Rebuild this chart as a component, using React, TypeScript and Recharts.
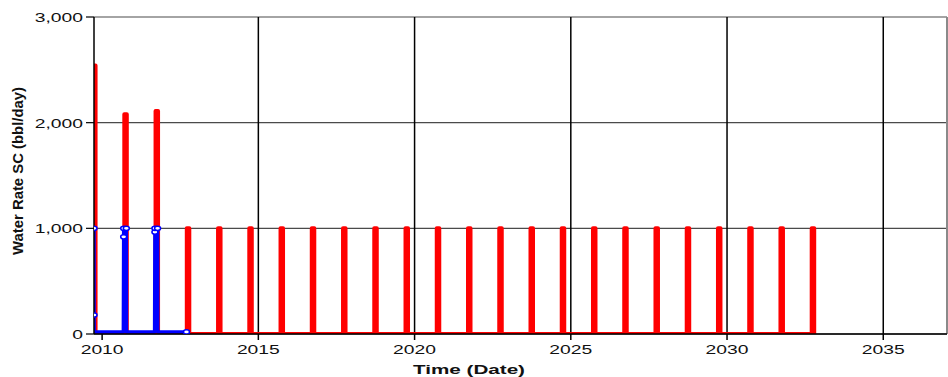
import React from 'react';
import { LineChart, Line, XAxis, YAxis, CartesianGrid, ReferenceLine, Label } from 'recharts';

// Time axis (decimal years)
const timeDomain: [number, number] = [2009.74, 2037.04];
const yearTicks = [2010, 2015, 2020, 2025, 2030, 2035];
const yearGridLines = [2015, 2020, 2025, 2030, 2035];

// Water rate axis (bbl/day)
const rateTicks = [0, 1000, 2000, 3000];

// Producer water rate: one short pulse per year
const redPulseStarts = [
  2009.71, 2010.71, 2011.71, 2012.71, 2013.71, 2014.71, 2015.71, 2016.71,
  2017.71, 2018.71, 2019.71, 2020.71, 2021.71, 2022.71, 2023.71, 2024.71,
  2025.71, 2026.71, 2027.71, 2028.71, 2029.71, 2030.71, 2031.71, 2032.71,
];
const redPulseRates = [
  2540, 2080, 2110, 1000, 1000, 1000, 1000, 1000,
  1000, 1000, 1000, 1000, 1000, 1000, 1000, 1000,
  1000, 1000, 1000, 1000, 1000, 1000, 1000, 1000,
];
const redPulseLength = 0.08;

// Historical water rate (with observed points marked)
const blueTimes = [
  2009.74, 2009.74, 2009.745, 2010.68, 2010.69, 2010.69, 2010.775, 2010.78,
  2011.68, 2011.69, 2011.69, 2011.775, 2011.78, 2012.7,
];
const blueRates = [1000, 180, 20, 20, 920, 1000, 1000, 20, 20, 965, 1000, 1000, 20, 20];
const blueMarked = [true, true, false, false, true, true, true, false, false, true, true, true, false, true];

const redSeries = redPulseStarts.flatMap((t, i) => [
  { t, v: 0 },
  { t, v: redPulseRates[i] },
  { t: t + redPulseLength, v: redPulseRates[i] },
  { t: t + redPulseLength, v: 0 },
]);

const blueSeries = blueTimes.map((t, i) => ({ t, v: blueRates[i], mark: blueMarked[i] }));

const FONT = '"Liberation Sans", Arial, sans-serif';
const STRETCH = 1.43;

const XTick = (props: any) => {
  const { x, y, payload } = props;
  return (
    <g transform={`translate(${x},${y + 12})`}>
      <text x={0} y={0} textAnchor="middle" transform={`scale(${STRETCH},1)`}
        fontFamily={FONT} fontSize={13.5} fill="#111">
        {payload.value}
      </text>
    </g>
  );
};

const YTick = (props: any) => {
  const { x, y, payload } = props;
  return (
    <g transform={`translate(${x - 1},${y + 5})`}>
      <text x={0} y={0} textAnchor="end" transform={`scale(${STRETCH},1)`}
        fontFamily={FONT} fontSize={13.5} fill="#111">
        {payload.value.toLocaleString('en-US')}
      </text>
    </g>
  );
};

const BlueDot = (props: any) => {
  const { cx, cy, payload, index } = props;
  if (!payload.mark) return <g key={`d-${index}`} />;
  return (
    <ellipse key={`d-${index}`} cx={cx} cy={cy} rx={3} ry={2.1}
      fill="#fff" stroke="#0000ff" strokeWidth={1.5} />
  );
};

export default function App() {
  return (
    <div style={{ position: 'absolute', left: 0, top: 0, width: 948, height: 377, background: '#fff' }}>
      <LineChart width={948} height={377} margin={{ top: 17, right: 1, bottom: 0, left: 0 }}>
        <CartesianGrid vertical={false} stroke="#4a4a4a" strokeWidth={1.2} />
        {yearGridLines.map((yr) => (
          <ReferenceLine key={yr} x={yr} stroke="#000" strokeWidth={1.5} />
        ))}
        <ReferenceLine x={timeDomain[1]} stroke="#8a8a8a" strokeWidth={2} />
        <XAxis
          type="number"
          dataKey="t"
          domain={timeDomain}
          ticks={yearTicks}
          allowDataOverflow
          height={43}
          tickSize={6}
          axisLine={{ stroke: '#000', strokeWidth: 1.5 }}
          tickLine={{ stroke: '#000', strokeWidth: 1.5 }}
          tick={<XTick />}
        >
          <Label
            content={() => (
              <g transform="translate(469,374)">
                <text x={0} y={0} textAnchor="middle" fontFamily={FONT} fontSize={13.5}
                  fontWeight="bold" fill="#111" textLength={112} lengthAdjust="spacingAndGlyphs">
                  Time (Date)
                </text>
              </g>
            )}
          />
        </XAxis>
        <YAxis
          type="number"
          domain={[0, 3000]}
          ticks={rateTicks}
          allowDataOverflow
          width={94}
          tickSize={8}
          axisLine={{ stroke: '#000', strokeWidth: 1.5 }}
          tickLine={{ stroke: '#000', strokeWidth: 1.2 }}
          tick={<YTick />}
        >
          <Label
            content={() => (
              <g transform="translate(23,171) scale(1.15,1) rotate(-90)">
                <text x={0} y={0} textAnchor="middle" fontFamily={FONT} fontSize={13.5}
                  fontWeight="bold" fill="#111" textLength={168} lengthAdjust="spacingAndGlyphs">
                  Water Rate SC (bbl/day)
                </text>
              </g>
            )}
          />
        </YAxis>
        <Line
          data={redSeries}
          dataKey="v"
          type="linear"
          stroke="#ff0000"
          strokeWidth={4}
          strokeLinejoin="round"
          dot={false}
          activeDot={false}
          isAnimationActive={false}
        />
        <Line
          data={blueSeries}
          dataKey="v"
          type="linear"
          stroke="#0000ff"
          strokeWidth={3.5}
          strokeLinejoin="round"
          dot={<BlueDot />}
          activeDot={false}
          isAnimationActive={false}
        />
      </LineChart>
    </div>
  );
}
